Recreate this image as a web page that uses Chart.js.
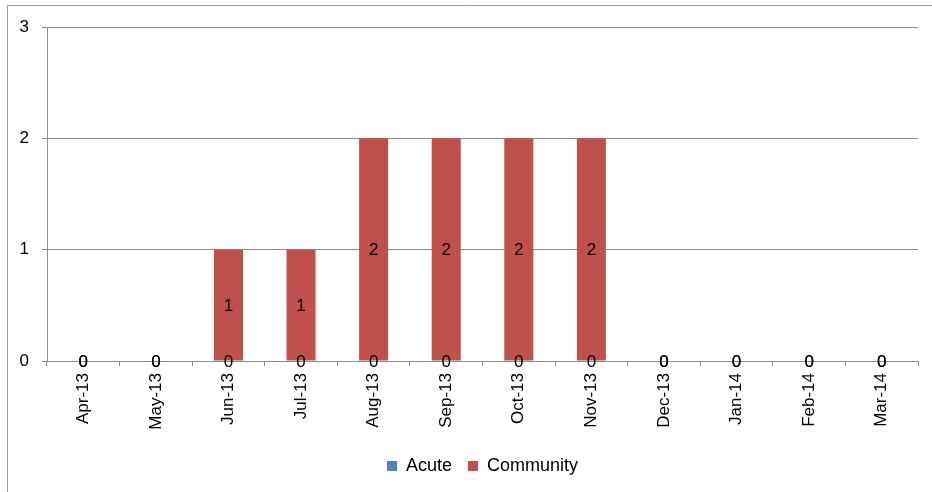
<!DOCTYPE html>
<html>
<head>
<style>
  html, body { margin: 0; padding: 0; background: #fff; }
  #wrap { position: relative; width: 932px; height: 492px; }
</style>
</head>
<body>
<div id="wrap"><canvas id="barChart" width="932" height="492"></canvas></div>
<script src="https://cdn.jsdelivr.net/npm/chart.js"></script>
<script>
const months = ['Apr-13','May-13','Jun-13','Jul-13','Aug-13','Sep-13','Oct-13','Nov-13','Dec-13','Jan-14','Feb-14','Mar-14'];
const acute = [0,0,0,0,0,0,0,0,0,0,0,0];
const community = [0,0,1,1,2,2,2,2,0,0,0,0];
const yTicks = [0,1,2,3];

const FONT = '"Liberation Sans", "DejaVu Sans", sans-serif';
const FSIZE = 17;

// outer frame of the original chart (top and left edges only are visible)
const framePlugin = {
    id: 'frame',
    beforeDraw(chart) {
        const c = chart.ctx;
        c.save();
        c.strokeStyle = '#9a9a9a';
        c.lineWidth = 1;
        c.beginPath();
        c.moveTo(7.5, 492);
        c.lineTo(7.5, 5.5);
        c.lineTo(932, 5.5);
        c.stroke();
        c.restore();
    }
};

// value labels in the middle of each bar segment
const labelPlugin = {
    id: 'valueLabels',
    afterDatasetsDraw(chart) {
        const c = chart.ctx;
        c.save();
        c.font = FSIZE + 'px ' + FONT;
        c.fillStyle = '#000';
        c.textAlign = 'center';
        c.textBaseline = 'middle';
        chart.data.datasets.forEach((ds, i) => {
            chart.getDatasetMeta(i).data.forEach((bar, j) => {
                const y = (bar.y + bar.base) / 2;
                c.fillText(String(ds.data[j]), bar.x, y + 1);
            });
        });
        c.restore();
    }
};

const ctx = document.getElementById('barChart').getContext('2d');
const barChart = new Chart(ctx, {
    type: 'bar',
    data: {
        labels: months,
        datasets: [
            { label: 'Acute', data: acute, backgroundColor: '#4F81BD', borderWidth: 0 },
            { label: 'Community', data: community, backgroundColor: '#C0504D', borderWidth: 0 }
        ]
    },
    options: {
        responsive: false,
        animation: false,
        devicePixelRatio: 1,
        layout: { padding: { top: 27, right: 14, left: 0, bottom: 7 } },
        datasets: { bar: { barPercentage: 1, categoryPercentage: 0.4 } },
        scales: {
            x: {
                stacked: true,
                grid: { drawOnChartArea: false, drawTicks: true, tickLength: 5, color: '#8c8c8c' },
                border: { color: '#8c8c8c' },
                ticks: { minRotation: 90, maxRotation: 90, color: '#000', font: { family: FONT, size: FSIZE }, padding: 7 },
                afterFit: s => { s.height = 80; }
            },
            y: {
                stacked: true,
                min: 0,
                max: 3,
                afterBuildTicks: s => { s.ticks = yTicks.map(v => ({ value: v })); },
                grid: { color: '#8c8c8c', tickLength: 5 },
                border: { color: '#8c8c8c' },
                ticks: { color: '#000', font: { family: FONT, size: FSIZE }, padding: 13 },
                afterFit: s => { s.width = 47; }
            }
        },
        plugins: {
            legend: {
                position: 'bottom',
                fullSize: false, // centred under the plot area, as in the original
                labels: { boxWidth: 10, boxHeight: 10, color: '#000', font: { family: FONT, size: 18 }, padding: 16 }
            },
            tooltip: { enabled: false }
        }
    },
    plugins: [framePlugin, labelPlugin]
});
</script>
</body>
</html>
